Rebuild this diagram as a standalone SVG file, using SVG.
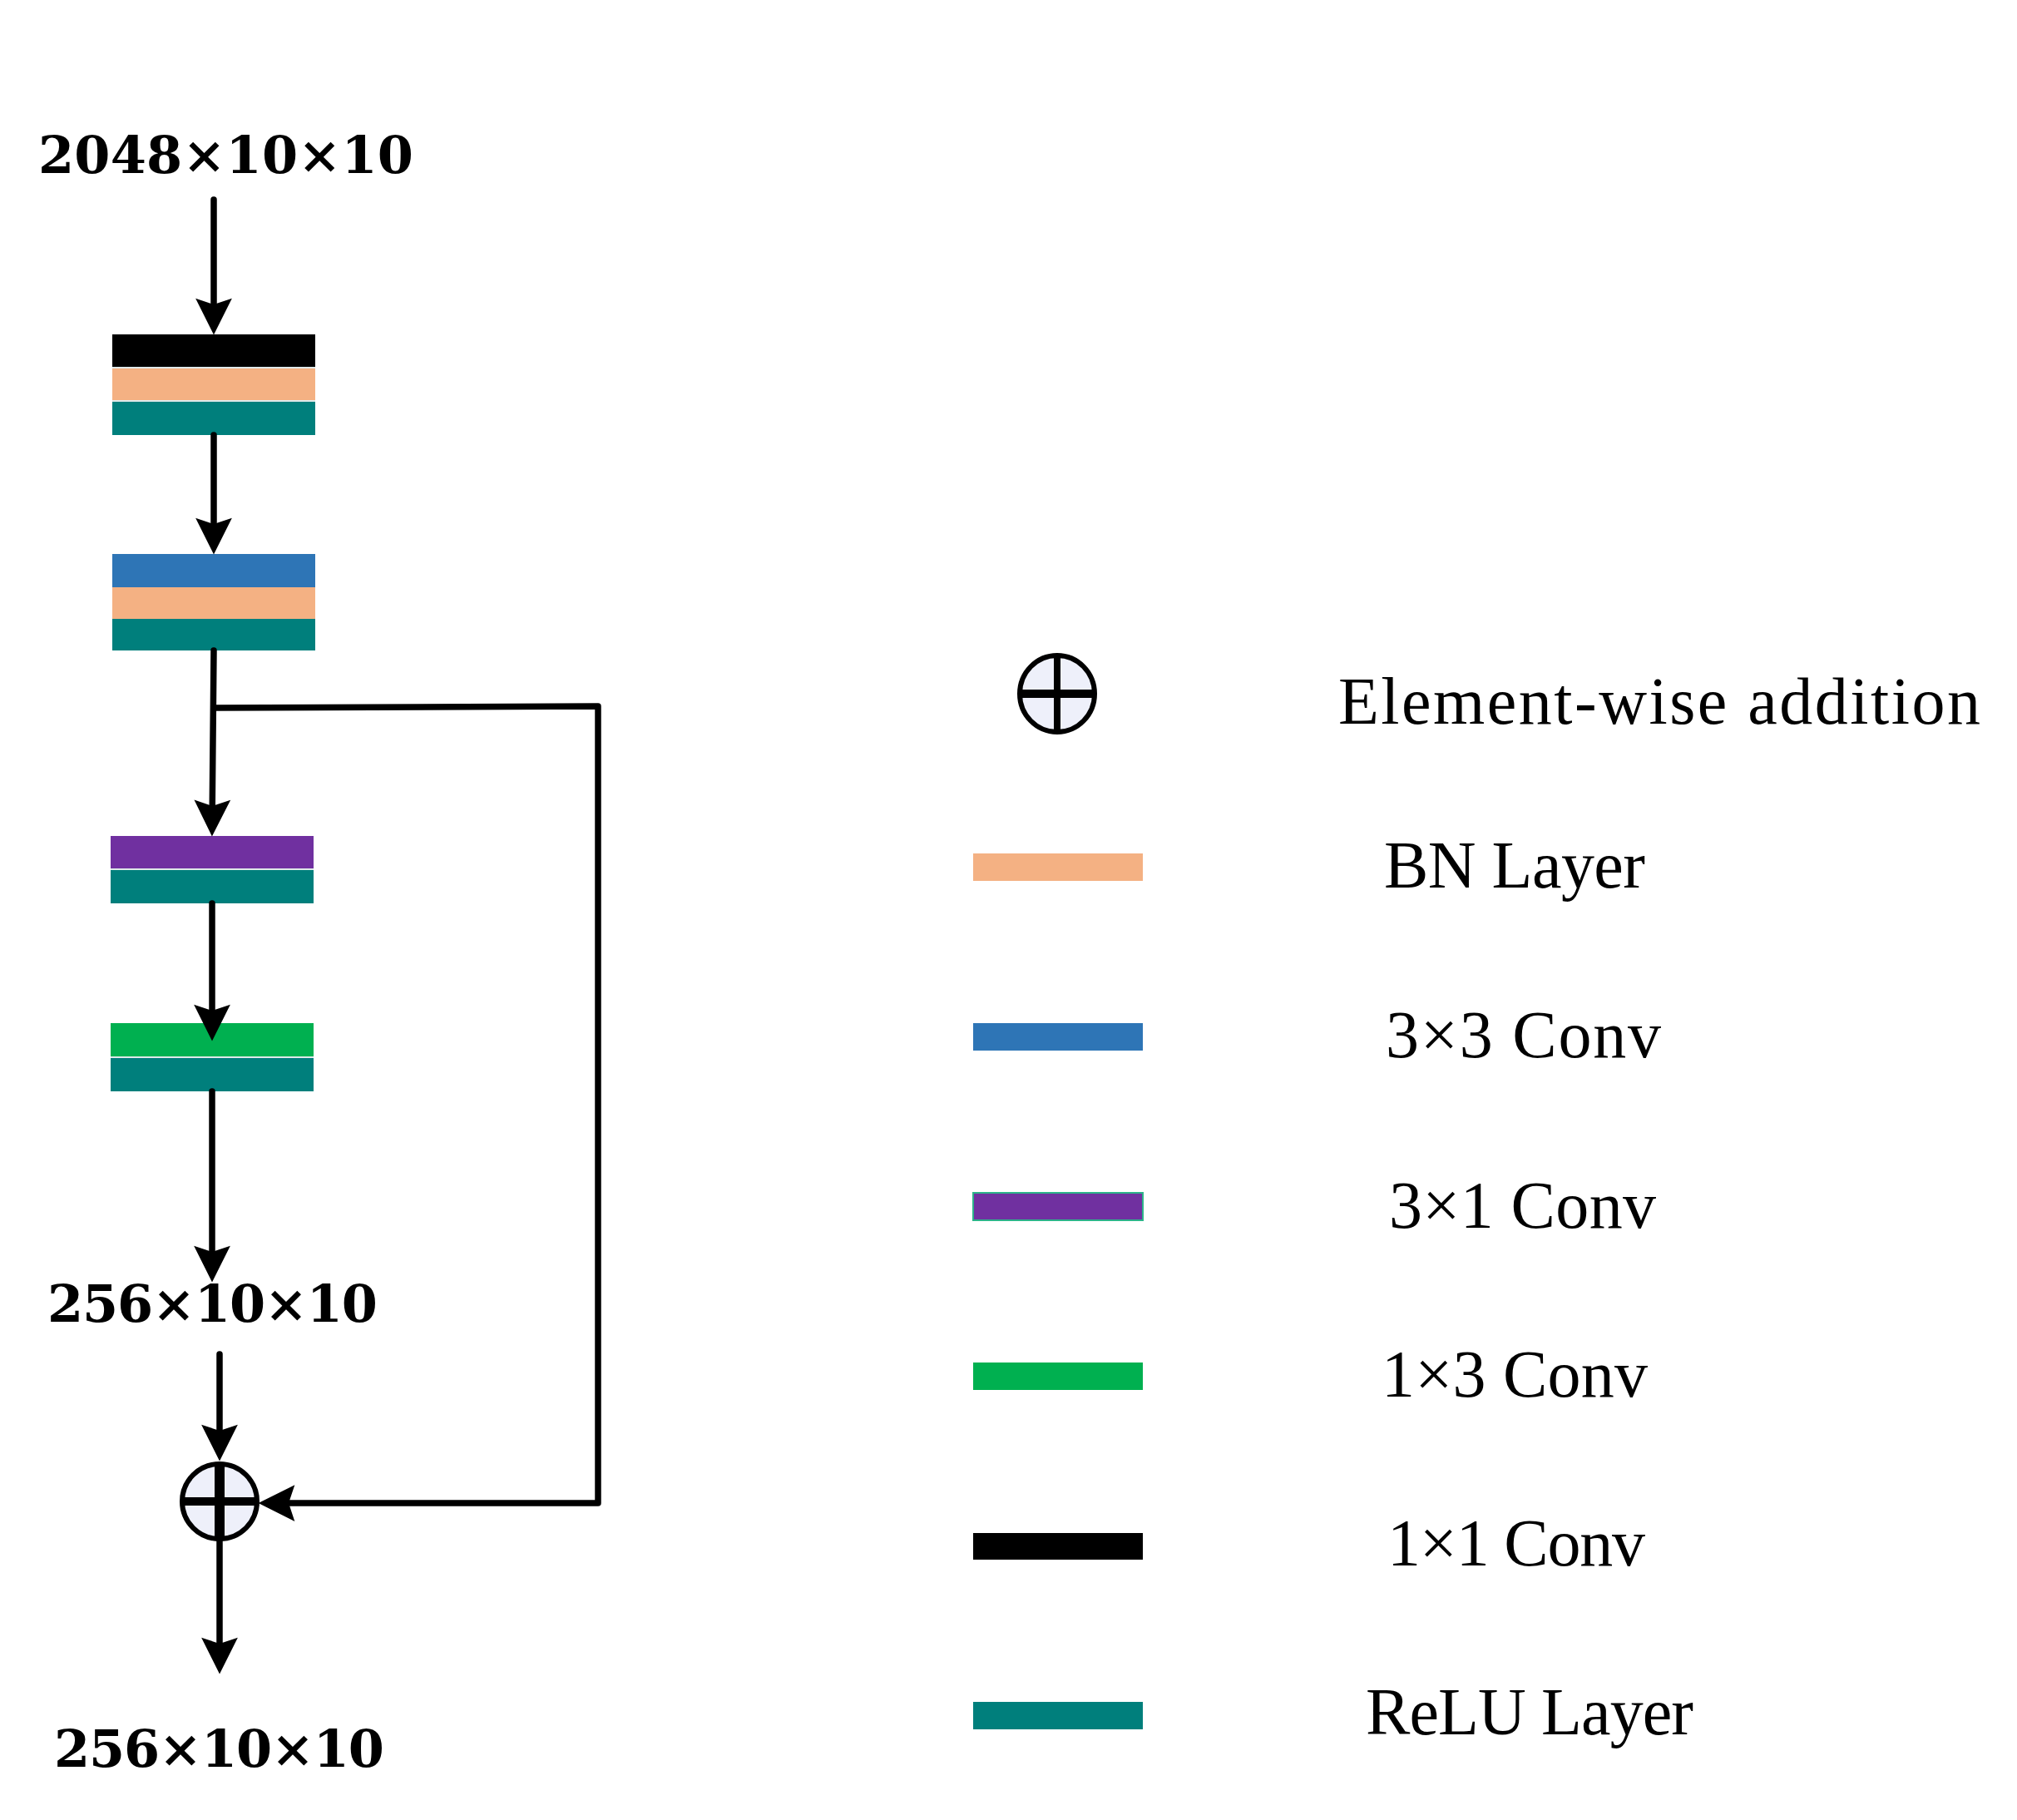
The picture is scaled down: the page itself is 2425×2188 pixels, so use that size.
<svg xmlns="http://www.w3.org/2000/svg" width="2425" height="2188" viewBox="0 0 2425 2188">
<style>
.dim{font-family:"DejaVu Serif","Liberation Serif",serif;font-weight:bold;font-size:62px;fill:#000}
.leg{font-family:"Liberation Serif","DejaVu Serif",serif;font-size:80px;fill:#000}
.k{fill:#000}.bn{fill:#F4B183}.relu{fill:#007F7C}.c33{fill:#2E75B6}.c31{fill:#7030A0}.c13{fill:#00B050}
.sep{stroke:#dfe9e9;stroke-width:2}
.con{fill:none;stroke:#000;stroke-width:7.5;stroke-linecap:round;stroke-linejoin:round}
.add{fill:#EEF0FA;stroke:#000;stroke-width:6}
.cross{stroke:#000;stroke-width:10}
</style>
<defs>
<marker id="ah" markerUnits="userSpaceOnUse" markerWidth="60" markerHeight="50" viewBox="-44 -24 56 48" refX="-10" refY="0" orient="auto">
<path d="M0,0 L-42,-21 L-35,0 L-42,21 Z" fill="#000"/>
</marker>
</defs>
<rect width="2425" height="2188" fill="#fff"/>

<g id="label-in"><text class="dim" x="46" y="208" textLength="451">2048×10×10</text></g>

<g id="block1">
<rect class="k" x="135" y="402" width="244" height="40"/>
<rect class="bn" x="135" y="442" width="244" height="40"/>
<rect class="relu" x="135" y="482" width="244" height="41"/>
<line class="sep" x1="135" y1="442" x2="379" y2="442"/>
<line class="sep" x1="135" y1="482" x2="379" y2="482"/>
</g>

<g id="block2">
<rect class="c33" x="135" y="666" width="244" height="40"/>
<rect class="bn" x="135" y="706" width="244" height="38"/>
<rect class="relu" x="135" y="744" width="244" height="38"/>
</g>

<g id="block3">
<rect class="c31" x="133" y="1005" width="244" height="40"/>
<rect class="relu" x="133" y="1045" width="244" height="41"/>
<line class="sep" x1="133" y1="1045" x2="377" y2="1045"/>
</g>

<g id="block4">
<rect class="c13" x="133" y="1230" width="244" height="41"/>
<rect class="relu" x="133" y="1271" width="244" height="41"/>
<line class="sep" x1="133" y1="1271" x2="377" y2="1271"/>
</g>

<g id="label-mid"><text class="dim" x="57" y="1589" textLength="397">256×10×10</text></g>

<g id="add-node">
<ellipse class="add" cx="264" cy="1805" rx="45" ry="45"/>
<line class="cross" x1="264" y1="1761" x2="264" y2="1849" style="stroke-width:12"/>
<line class="cross" x1="220" y1="1805" x2="308" y2="1805"/>
</g>

<g id="label-out"><text class="dim" x="65" y="2124" textLength="397">256×10×10</text></g>

<g id="connectors">
<path class="con" d="M257,240 L257,392" marker-end="url(#ah)"/>
<path class="con" d="M257,523 L257,656" marker-end="url(#ah)"/>
<path class="con" d="M257,782 L255,995" marker-end="url(#ah)"/>
<path class="con" d="M257,851 L719,849 L719,1807 L321,1807" marker-end="url(#ah)"/>
<path class="con" d="M255,1086 L255,1241" marker-end="url(#ah)"/>
<path class="con" d="M255,1312 L255,1531" marker-end="url(#ah)"/>
<path class="con" d="M264,1628 L264,1746" marker-end="url(#ah)"/>
<path class="con" d="M264,1851 L264,2002" marker-end="url(#ah)"/>
</g>

<g id="legend">
<g id="leg-add">
<ellipse class="add" cx="1271" cy="834" rx="45" ry="46"/>
<line class="cross" x1="1271" y1="789" x2="1271" y2="879" style="stroke-width:8"/>
<line class="cross" x1="1227" y1="834" x2="1315" y2="834"/>
<text class="leg" x="1609" y="870" textLength="772">Element-wise addition</text>
</g>
<g id="leg-bn"><rect class="bn" x="1170" y="1026" width="204" height="33"/><text class="leg" x="1664" y="1067" textLength="314">BN Layer</text></g>
<g id="leg-33"><rect class="c33" x="1170" y="1230" width="204" height="33"/><text class="leg" x="1666" y="1271" textLength="331">3×3 Conv</text></g>
<g id="leg-31"><rect class="c31" x="1170" y="1434" width="204" height="33" style="stroke:#2DB38A;stroke-width:2"/><text class="leg" x="1670" y="1476" textLength="321">3×1 Conv</text></g>
<g id="leg-13"><rect class="c13" x="1170" y="1638" width="204" height="33"/><text class="leg" x="1661" y="1679" textLength="320">1×3 Conv</text></g>
<g id="leg-11"><rect class="k" x="1170" y="1843" width="204" height="32"/><text class="leg" x="1668" y="1882" textLength="310">1×1 Conv</text></g>
<g id="leg-relu"><rect class="relu" x="1170" y="2046" width="204" height="33"/><text class="leg" x="1642" y="2085" textLength="394">ReLU Layer</text></g>
</g>
</svg>
